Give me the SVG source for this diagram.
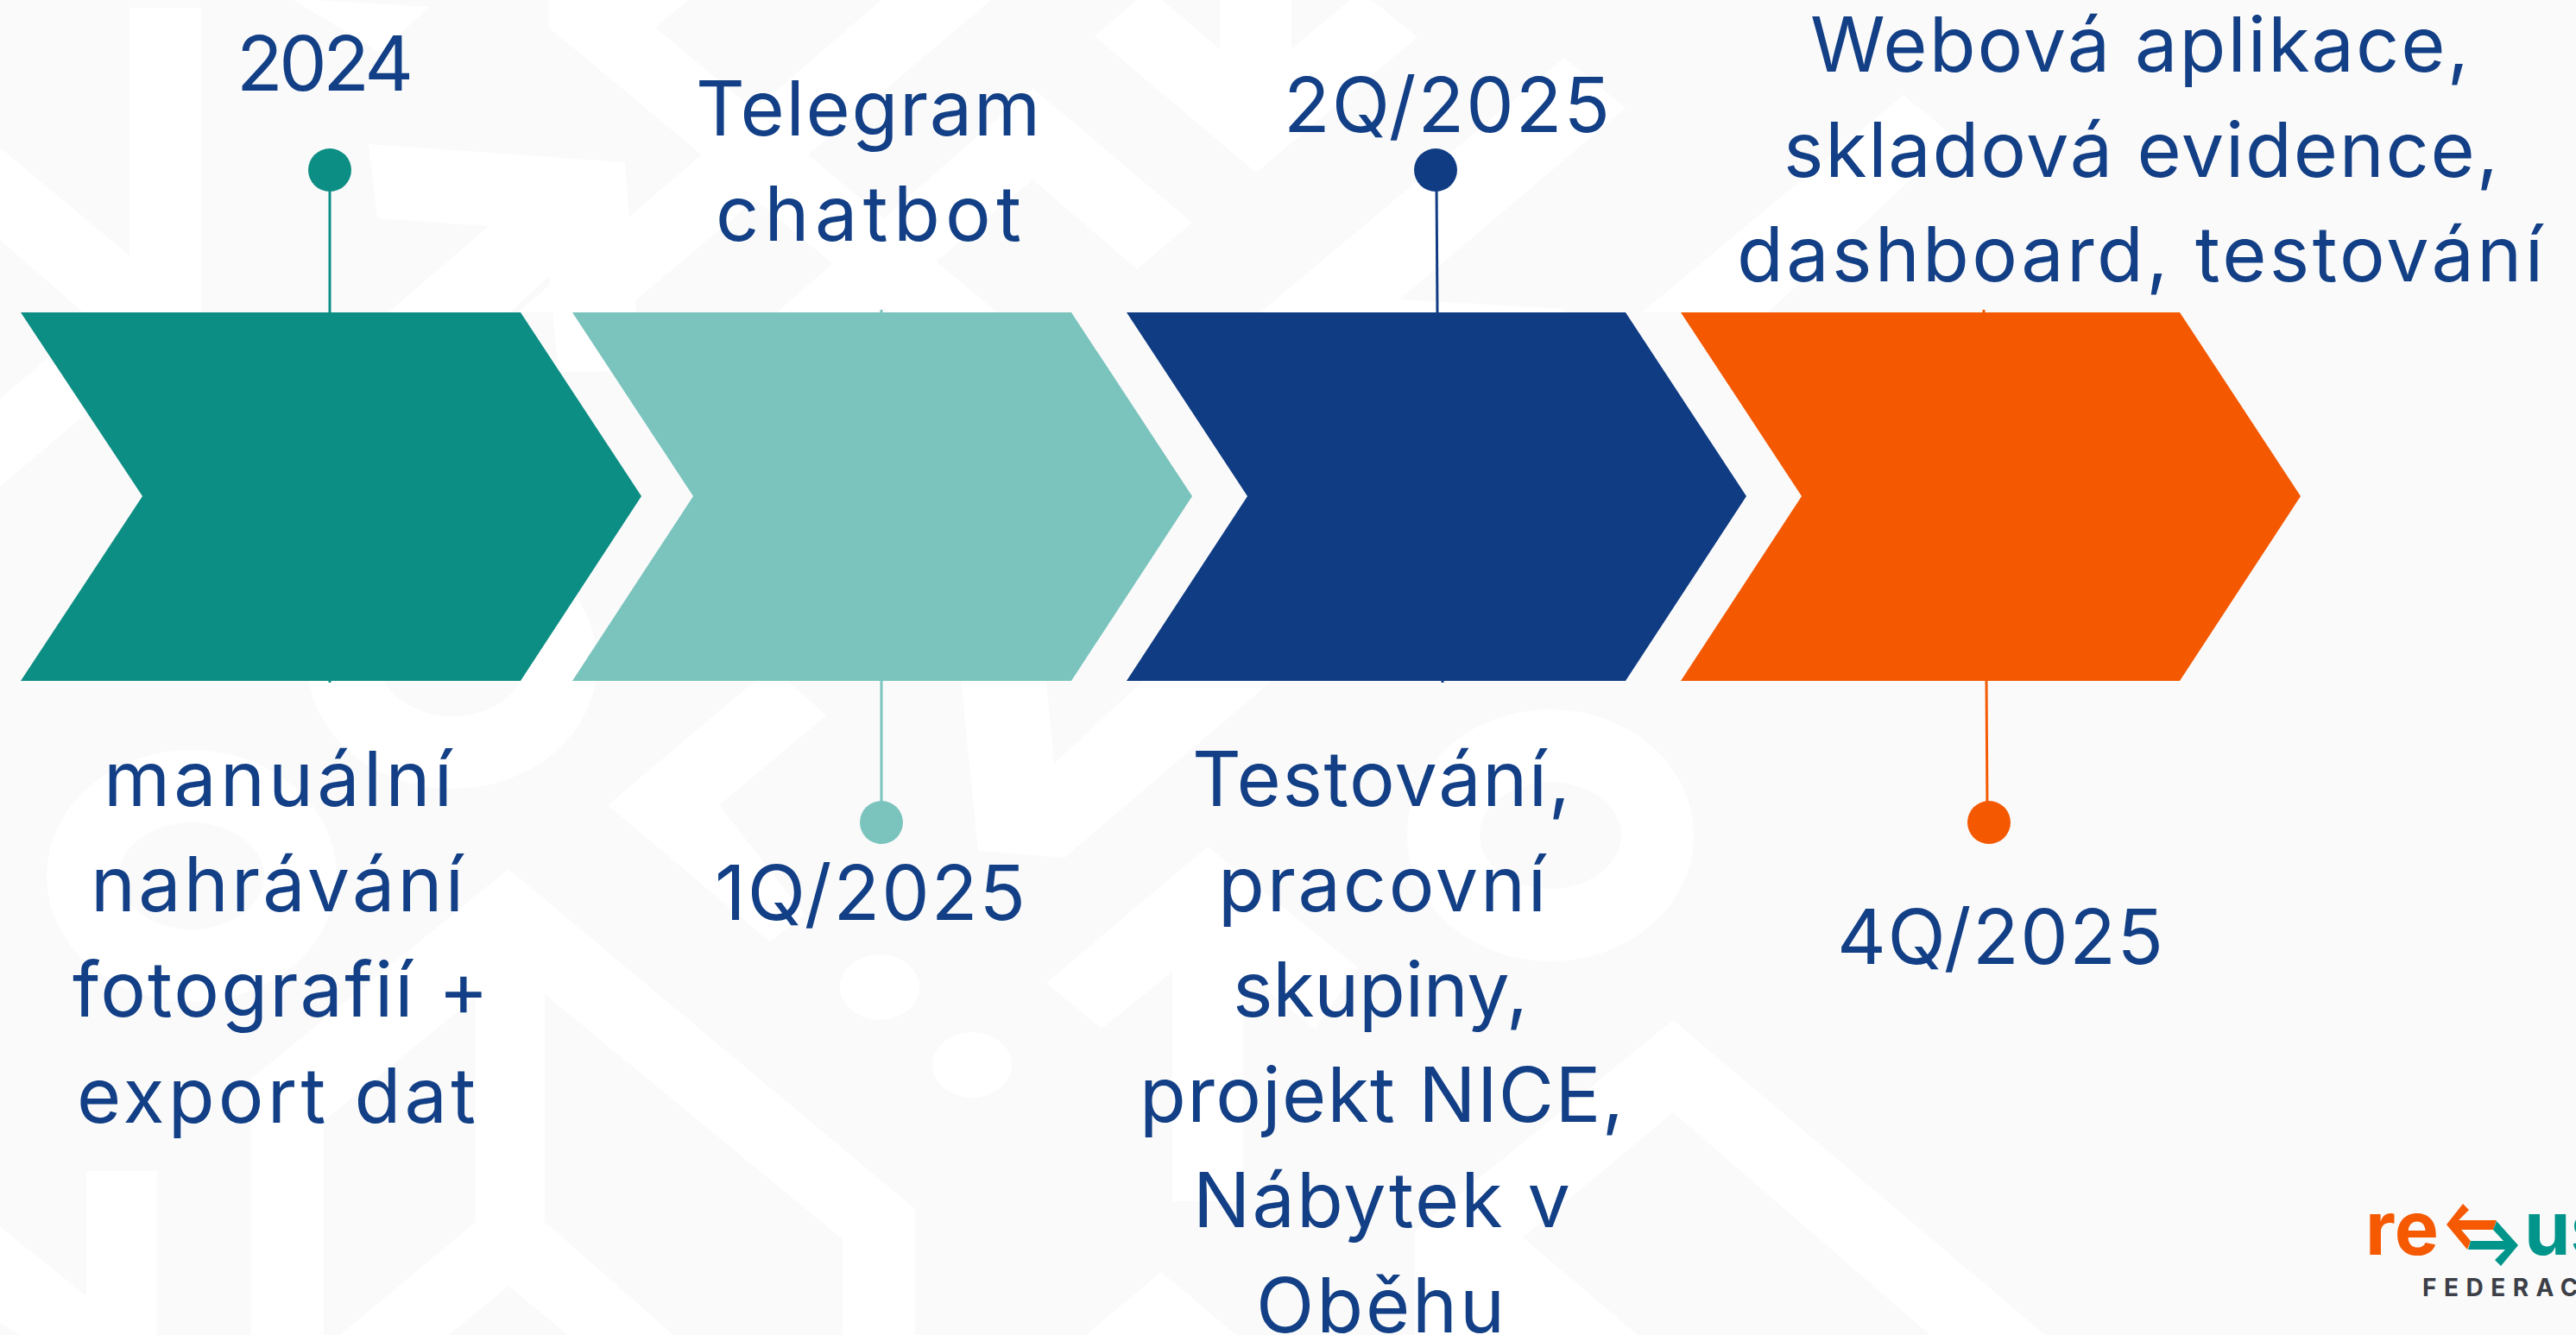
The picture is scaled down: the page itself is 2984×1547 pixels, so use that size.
<svg xmlns="http://www.w3.org/2000/svg" width="2984" height="1547" viewBox="0 0 2984 1547">
<style>
.bg{fill:#fff}
.t{font-family:Inter,"Liberation Sans",sans-serif;font-size:88px;font-weight:400;fill:#123f85}
.c{stroke-width:3;fill:none}
.logo{font-family:Inter,"Liberation Sans",sans-serif;font-weight:700}
</style>
<rect width="2984" height="1547" fill="#fafafa"/>
<g id="background">
<polygon class="bg" points="150,9 233,9 233,362 150,362"/>
<polygon class="bg" points="0,171 150,296 150,362 96,362 0,278"/>
<polygon class="bg" points="54,416 0,462 0,564 120,462"/>
<polygon class="bg" points="364,0 497,8 440,61 340,0"/>
<polygon class="bg" points="427,167 724,188 742,430 647,431 636,320 590,362 450,362 566,262 437,253"/>
<polygon class="bg" points="636,0 797,0 759,32 1155,362 1032,362 636,32"/>
<polygon class="bg" points="1021,0 1148,0 720,362 600,362 905,100"/>
<polygon class="bg" points="900,362 1196,102 1381,258 1317,312 1196,208 1015,362"/>
<polygon class="bg" points="1317,0 1268,42 1455,200 1642,43 1589,0 1564,0 1496,57 1496,0 1413,0 1413,57 1346,0"/>
<polygon class="bg" points="1812,67 1883,125 1621,347 1812,358 1812,362 1460,362"/>
<polygon class="bg" points="2205,110 2265,160 2048,362 1902,362"/>
<ellipse cx="222" cy="1015" rx="126" ry="104" fill="none" stroke="#fff" stroke-width="84"/>
<ellipse cx="524" cy="768" rx="126" ry="104" fill="none" stroke="#fff" stroke-width="84"/>
<ellipse cx="1796" cy="968" rx="124" ry="104" fill="none" stroke="#fff" stroke-width="84"/>
<ellipse class="bg" cx="1019" cy="1144" rx="46" ry="38"/>
<ellipse class="bg" cx="1126" cy="1234" rx="46" ry="38"/>
<polygon class="bg" points="876,788 911,788 957,829 833,933 932,1060 892,1091 704,933"/>
<polygon class="bg" points="1113,788 1212,788 1221,885 1325,788 1474,788 1233,994 1133,986"/>
<polygon class="bg" points="1399,981 1573,1121 1523,1192 1440,1126 1440,1392 1358,1392 1358,1126 1276,1192 1212,1139"/>
<polygon class="bg" points="589,1007 1060,1401 1060,1547 976,1547 976,1436 631,1152 631,1416 780,1547 658,1547 589,1490 520,1547 394,1547 551,1416 551,1155 375,1299 375,1547 291,1547 291,1250"/>
<polygon class="bg" points="0,1421 100,1502 100,1357 182,1357 182,1547 23,1547 0,1533"/>
<polygon class="bg" points="1938,1182 2369,1547 2236,1547 1938,1289 1764,1434 1897,1547 1639,1547 1639,1426"/>
<polygon class="bg" points="1258,1547 1345,1474 1432,1547"/>
</g>
<g id="connectors">
<line class="c" x1="382" y1="210" x2="382" y2="362" stroke="#0e8f85"/>
<line class="c" x1="382" y1="788" x2="382" y2="791" stroke="#0e8f85"/>
<line class="c" x1="1021" y1="359" x2="1021" y2="362" stroke="#7bc5be"/>
<line class="c" x1="1021" y1="788" x2="1021" y2="940" stroke="#7bc5be"/>
<line class="c" x1="1664" y1="210" x2="1665" y2="362" stroke="#103c84"/>
<line class="c" x1="1671" y1="788" x2="1671" y2="791" stroke="#103c84"/>
<line class="c" x1="2298" y1="359" x2="2298" y2="362" stroke="#f55a03"/>
<line class="c" x1="2301" y1="788" x2="2302" y2="940" stroke="#f55a03"/>
</g>
<g id="node-2024">
<polygon points="24,362 603,362 743,575 603,789 24,789 165,575" fill="#0d8e84"/>
<circle cx="382" cy="197" r="25" fill="#0d8e84"/>
<text class="t" x="274" y="105" textLength="205">2024</text>
<text class="t" x="120" y="934" textLength="404">manuální</text>
<text class="t" x="105" y="1056" textLength="432">nahrávání</text>
<text class="t" x="84" y="1178" textLength="482">fotografií +</text>
<text class="t" x="89" y="1301" textLength="462">export dat</text>
</g>
<g id="node-1q2025">
<polygon points="663,362 1241,362 1381,575 1241,789 663,789 803,575" fill="#7ac4bd"/>
<circle cx="1021" cy="953" r="25" fill="#7ac4bd"/>
<text class="t" x="806" y="157" textLength="399">Telegram</text>
<text class="t" x="829" y="279" textLength="354">chatbot</text>
<text class="t" x="828" y="1066" textLength="360">1Q/2025</text>
</g>
<g id="node-2q2025">
<polygon points="1305,362 1883,362 2023,575 1883,789 1305,789 1445,575" fill="#103c84"/>
<circle cx="1663" cy="197" r="25" fill="#103c84"/>
<text class="t" x="1487" y="153" textLength="378">2Q/2025</text>
<text class="t" x="1381" y="934" textLength="438">Testování,</text>
<text class="t" x="1411" y="1056" textLength="380">pracovní</text>
<text class="t" x="1428" y="1178" textLength="342">skupiny,</text>
<text class="t" x="1320" y="1300" textLength="561">projekt NICE,</text>
<text class="t" x="1382" y="1422" textLength="437">Nábytek v</text>
<text class="t" x="1455" y="1544" textLength="288">Oběhu</text>
</g>
<g id="node-4q2025">
<polygon points="1947,362 2525,362 2665,575 2525,789 1947,789 2087,575" fill="#f45902"/>
<circle cx="2304" cy="953" r="25" fill="#f45902"/>
<text class="t" x="2097" y="83" textLength="763">Webová aplikace,</text>
<text class="t" x="2066" y="205" textLength="828">skladová evidence,</text>
<text class="t" x="2012" y="326" textLength="934">dashboard, testování</text>
<text class="t" x="2128" y="1117" textLength="378">4Q/2025</text>
</g>
<g id="logo">
<text class="logo" x="2740" y="1454" font-size="86" fill="#f55a03" textLength="85">re</text>
<polygon points="2834,1419 2853,1395 2860,1402 2848,1414 2892,1414 2888,1425 2851,1425 2862,1438 2858,1448" fill="#f55a03"/>
<polygon points="2892,1415 2917,1443 2897,1467 2890,1460 2902,1448 2859,1448 2862,1438 2900,1438 2888,1425" fill="#00958a"/>
<text class="logo" x="2924" y="1454" font-size="86" fill="#00958a">us</text>
<text class="logo" x="2806" y="1502" font-size="28" fill="#3c3f47" letter-spacing="8.5">FEDERAC</text>
</g>
</svg>
